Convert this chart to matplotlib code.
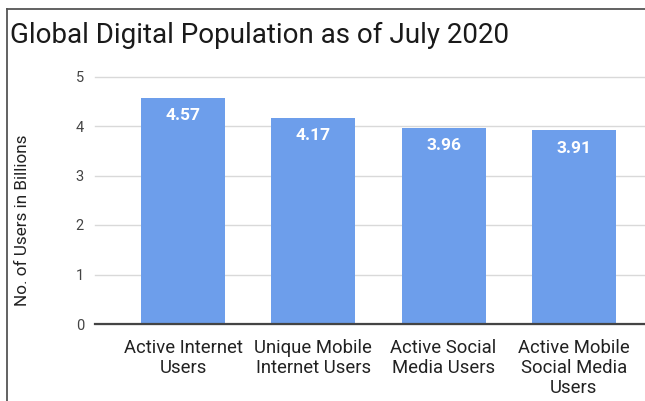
import matplotlib
matplotlib.use("Agg")
import matplotlib.pyplot as plt
from matplotlib.lines import Line2D

plt.rcParams['font.family'] = ['Roboto', 'DejaVu Sans']

categories = ["Active Internet\nUsers", "Unique Mobile\nInternet Users",
              "Active Social\nMedia Users", "Active Mobile\nSocial Media\nUsers"]
values = [4.57, 4.17, 3.96, 3.91]
y_ticks = [0, 1, 2, 3, 4, 5]

W, H = 645, 401
fig = plt.figure(figsize=(W / 100, H / 100), dpi=100)
ax = fig.add_axes([95 / W, (H - 324) / H, (W - 95) / W, (324 - 76.5) / H])

bar_color = "#6d9eeb"
x = list(range(len(categories)))
ax.bar(x, values, width=0.645, color=bar_color, zorder=3)
for xi, v in zip(x, values):
    ax.annotate(f"{v:.2f}", (xi, v), xytext=(0, -18), textcoords="offset pixels",
                ha="center", va="center", color="white", fontsize=12.5,
                fontweight="bold", zorder=4)

ax.set_xlim(-0.675, 3.546)
ax.set_ylim(0, 5)
ax.set_yticks(y_ticks)
ax.set_yticklabels([str(t) for t in y_ticks])
ax.grid(axis="y", color="#d9d9d9", linewidth=1.0, zorder=0)
for gl in ax.get_ygridlines():
    gl.set_clip_on(False)
ax.axhline(0, color="#444444", linewidth=1.6, zorder=5, clip_on=False)

for s in ax.spines.values():
    s.set_visible(False)
ax.tick_params(axis="y", length=0, pad=8, labelsize=10.5, labelcolor="#444444")
ax.tick_params(axis="x", length=0, pad=11, labelsize=13.3, labelcolor="#222222")
ax.set_xticks(x)
ax.set_xticklabels(categories, linespacing=1.15, va="top")

fig.text(23 / W, 1 - 220 / H, "No. of Users in Billions", rotation=90,
         ha="center", va="center", fontsize=12.3, color="#222222")
fig.text(10 / W, 1 - 35.5 / H, "Global Digital Population as of July 2020",
         ha="left", va="center", fontsize=20, color="#1a1a1a")

# Thin frame along the top and left edges
fig.add_artist(Line2D([7 / W, 1], [1 - 8.5 / H, 1 - 8.5 / H],
                      transform=fig.transFigure, color="#555555", linewidth=1.3))
fig.add_artist(Line2D([7 / W, 7 / W], [0, 1 - 8.5 / H],
                      transform=fig.transFigure, color="#555555", linewidth=1.3))

fig.savefig("out.png", dpi=100, facecolor="white")
